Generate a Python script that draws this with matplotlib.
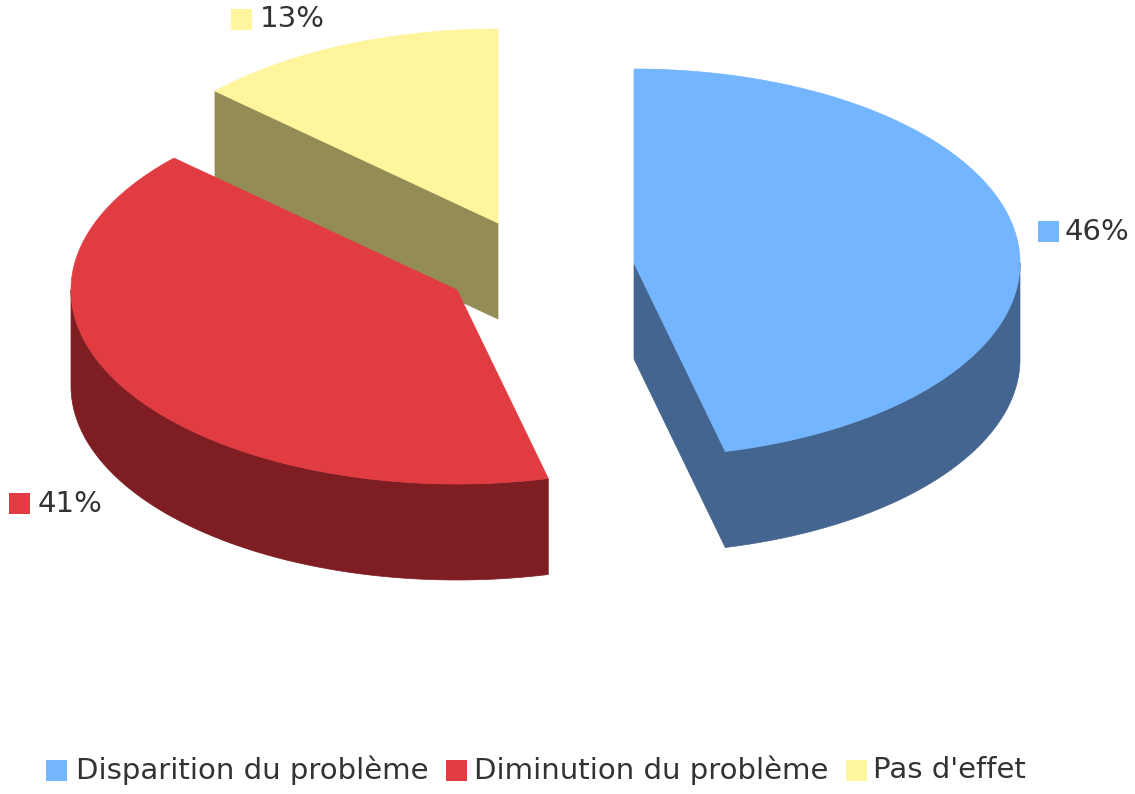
import numpy as np
from matplotlib import pyplot as plt
from matplotlib.patches import Polygon, Rectangle

labels = ["Disparition du problème", "Diminution du problème", "Pas d'effet"]
values = [46.2, 40.7, 13.1]
top_colors = ["#73B5FF", "#E23C43", "#FFF59D"]
side_colors = ["#44658F", "#7E1E23", "#938C55"]

# apex of each exploded slice, in pixels
centers = [(634, 263), (457, 290), (498, 223)]
label_pos = [(1065, 232), (38, 504), (260, 19)]
label_box = [(1038, 221), (9, 493), (231, 9)]
legend_box = [46, 446, 846]
legend_text = [76, 474, 873]

rx = 386
ry = 194
depth = 96


def rim(cx, cy, a0, a1):
    # angles in degrees, clockwise from the top of the ellipse
    t = np.radians(np.linspace(a0, a1, 200))
    return np.column_stack([cx + rx * np.sin(t), cy - ry * np.cos(t)])


fig = plt.figure(figsize=(11.35, 7.94), dpi=100)
ax = fig.add_axes([0, 0, 1, 1])
ax.set_xlim(0, 1135)
ax.set_ylim(794, 0)
ax.axis("off")

edges = np.concatenate([[0], np.cumsum(values)]) * 360 / sum(values)
down = np.array([0, depth])

# back to front: yellow, red, blue
for i in [2, 1, 0]:
    cx, cy = centers[i]
    a0, a1 = edges[i], edges[i + 1]

    # cut face on the side that looks at the viewer
    if i != 1:
        start = a1 if i == 0 else a0
        e = rim(cx, cy, start, start)[0]
        apex = np.array([cx, cy])
        ax.add_patch(Polygon([apex, e, e + down, apex + down], fc=side_colors[i], ec=side_colors[i], lw=0.5))

    # outer wall, only the lower half of the ellipse shows
    lo, hi = max(a0, 90), min(a1, 270)
    if lo < hi:
        r = rim(cx, cy, lo, hi)
        ax.add_patch(Polygon(np.vstack([r, r[::-1] + down]), fc=side_colors[i], ec=side_colors[i], lw=0.5))

    top = np.vstack([[cx, cy], rim(cx, cy, a0, a1)])
    ax.add_patch(Polygon(top, fc=top_colors[i], ec=top_colors[i], lw=0.5))

for i in range(3):
    x, y = label_box[i]
    ax.add_patch(Rectangle((x, y), 21, 21, fc=top_colors[i], ec="none"))
    ax.text(label_pos[i][0], label_pos[i][1], "%.0f%%" % values[i], fontsize=21, color="#333333", va="center", ha="left")

    ax.add_patch(Rectangle((legend_box[i], 760), 21, 21, fc=top_colors[i], ec="none"))
    ax.text(legend_text[i], 770, labels[i], fontsize=21, color="#333333", va="center", ha="left")

plt.savefig("out.png", dpi=100)
